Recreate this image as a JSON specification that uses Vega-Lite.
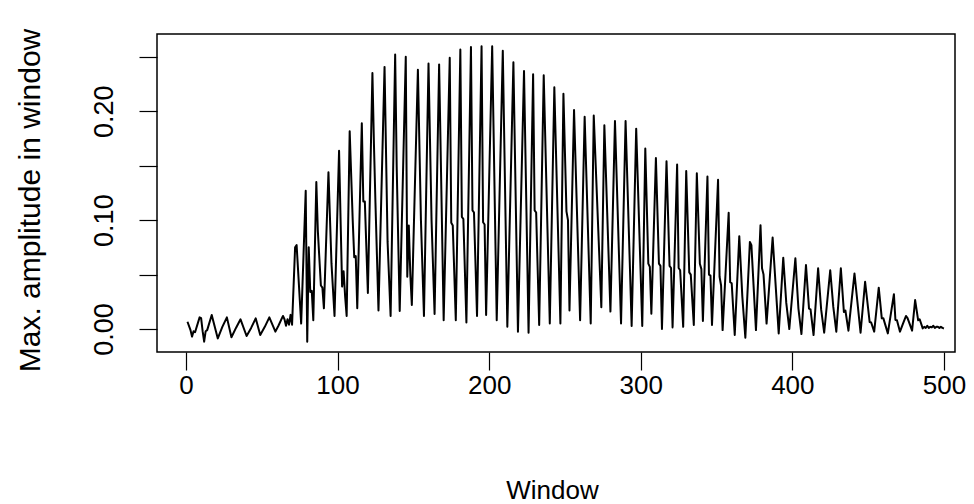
{
  "$schema": "https://vega.github.io/schema/vega-lite/v6.json",
  "width": 798,
  "height": 318,
  "autosize": {"type": "none"},
  "padding": {"left": 157, "top": 34, "right": 19, "bottom": 152},
  "background": "white",
  "config": {
    "font": "Liberation Sans",
    "view": {"stroke": "black", "strokeWidth": 1.5, "fill": null}
  },
  "data": {
    "values": [
      {"window": 1, "amp": 0.0067}, {"window": 3, "amp": -0.001}, {"window": 4, "amp": -0.007},
      {"window": 5, "amp": -0.002}, {"window": 6, "amp": -0.003}, {"window": 9, "amp": 0.0107},
      {"window": 10, "amp": 0.010}, {"window": 11, "amp": -0.002}, {"window": 12, "amp": -0.0116},
      {"window": 13, "amp": -0.002}, {"window": 14, "amp": -0.001}, {"window": 17, "amp": 0.0128},
      {"window": 19, "amp": 0.002}, {"window": 21, "amp": -0.0086}, {"window": 24, "amp": 0.002},
      {"window": 27, "amp": 0.0107}, {"window": 30, "amp": -0.0076}, {"window": 33, "amp": 0.001},
      {"window": 36, "amp": 0.0089}, {"window": 40, "amp": -0.0064}, {"window": 43, "amp": 0.001},
      {"window": 46, "amp": 0.0098}, {"window": 49, "amp": -0.0055}, {"window": 52, "amp": 0.002},
      {"window": 55, "amp": 0.0107}, {"window": 59, "amp": -0.0024}, {"window": 61, "amp": 0.003},
      {"window": 64, "amp": 0.012}, {"window": 65, "amp": 0.009}, {"window": 66, "amp": 0.003},
      {"window": 67, "amp": 0.009}, {"window": 68, "amp": 0.004}, {"window": 69, "amp": 0.013},
      {"window": 70, "amp": 0.004}, {"window": 72, "amp": 0.075}, {"window": 73, "amp": 0.077},
      {"window": 76, "amp": 0.005}, {"window": 79, "amp": 0.127}, {"window": 80, "amp": -0.0116},
      {"window": 81, "amp": 0.075}, {"window": 82, "amp": 0.034}, {"window": 83, "amp": 0.035},
      {"window": 84, "amp": 0.008}, {"window": 86, "amp": 0.135}, {"window": 87, "amp": 0.09},
      {"window": 89, "amp": 0.040}, {"window": 90, "amp": 0.038}, {"window": 91, "amp": 0.019},
      {"window": 94, "amp": 0.144}, {"window": 96, "amp": 0.06}, {"window": 98, "amp": 0.012},
      {"window": 101, "amp": 0.1636}, {"window": 102, "amp": 0.10}, {"window": 103, "amp": 0.039},
      {"window": 104, "amp": 0.053}, {"window": 105, "amp": 0.030}, {"window": 106, "amp": 0.012},
      {"window": 108, "amp": 0.1817}, {"window": 110, "amp": 0.10}, {"window": 111, "amp": 0.066},
      {"window": 112, "amp": 0.067}, {"window": 113, "amp": 0.019}, {"window": 116, "amp": 0.189},
      {"window": 117, "amp": 0.117}, {"window": 118, "amp": 0.117}, {"window": 120, "amp": 0.033},
      {"window": 123, "amp": 0.235}, {"window": 124, "amp": 0.17}, {"window": 125, "amp": 0.116},
      {"window": 127, "amp": 0.017}, {"window": 131, "amp": 0.2407}, {"window": 133, "amp": 0.08},
      {"window": 135, "amp": 0.012}, {"window": 138, "amp": 0.252}, {"window": 139, "amp": 0.15},
      {"window": 141, "amp": 0.0165}, {"window": 145, "amp": 0.250}, {"window": 146, "amp": 0.048},
      {"window": 147, "amp": 0.095}, {"window": 148, "amp": 0.05}, {"window": 149, "amp": 0.022},
      {"window": 153, "amp": 0.238}, {"window": 155, "amp": 0.10}, {"window": 157, "amp": 0.012},
      {"window": 160, "amp": 0.2437}, {"window": 162, "amp": 0.10}, {"window": 164, "amp": 0.0138},
      {"window": 167, "amp": 0.243}, {"window": 170, "amp": 0.008}, {"window": 174, "amp": 0.249},
      {"window": 175, "amp": 0.0975}, {"window": 176, "amp": 0.095}, {"window": 178, "amp": 0.008},
      {"window": 181, "amp": 0.2566}, {"window": 182, "amp": 0.103}, {"window": 183, "amp": 0.101},
      {"window": 185, "amp": 0.006}, {"window": 188, "amp": 0.259}, {"window": 189, "amp": 0.109},
      {"window": 190, "amp": 0.107}, {"window": 192, "amp": 0.012}, {"window": 195, "amp": 0.2596},
      {"window": 196, "amp": 0.098}, {"window": 197, "amp": 0.096}, {"window": 198, "amp": 0.0128},
      {"window": 202, "amp": 0.2596}, {"window": 205, "amp": 0.008}, {"window": 209, "amp": 0.2555},
      {"window": 212, "amp": 0.002}, {"window": 216, "amp": 0.245}, {"window": 219, "amp": -0.0024},
      {"window": 223, "amp": 0.237}, {"window": 226, "amp": -0.0034}, {"window": 229, "amp": 0.234},
      {"window": 230, "amp": 0.109}, {"window": 231, "amp": 0.107}, {"window": 233, "amp": 0.0037},
      {"window": 236, "amp": 0.233}, {"window": 240, "amp": 0.005}, {"window": 243, "amp": 0.222},
      {"window": 247, "amp": 0.005}, {"window": 249, "amp": 0.216}, {"window": 251, "amp": 0.108},
      {"window": 252, "amp": 0.100}, {"window": 253, "amp": 0.017}, {"window": 256, "amp": 0.201},
      {"window": 260, "amp": 0.008}, {"window": 263, "amp": 0.195}, {"window": 267, "amp": 0.005},
      {"window": 269, "amp": 0.196}, {"window": 274, "amp": 0.020}, {"window": 276, "amp": 0.187},
      {"window": 280, "amp": 0.016}, {"window": 283, "amp": 0.191}, {"window": 287, "amp": 0.005},
      {"window": 290, "amp": 0.191}, {"window": 294, "amp": 0.0028}, {"window": 297, "amp": 0.184},
      {"window": 301, "amp": 0.0028}, {"window": 303, "amp": 0.1658}, {"window": 305, "amp": 0.060},
      {"window": 306, "amp": 0.057}, {"window": 307, "amp": 0.014}, {"window": 310, "amp": 0.157},
      {"window": 312, "amp": 0.06}, {"window": 313, "amp": 0.058}, {"window": 314, "amp": 0.0},
      {"window": 317, "amp": 0.154}, {"window": 319, "amp": 0.058}, {"window": 320, "amp": 0.056},
      {"window": 321, "amp": 0.0015}, {"window": 324, "amp": 0.151}, {"window": 325, "amp": 0.056},
      {"window": 326, "amp": 0.054}, {"window": 328, "amp": 0.002}, {"window": 330, "amp": 0.145},
      {"window": 332, "amp": 0.052}, {"window": 333, "amp": 0.050}, {"window": 335, "amp": 0.0037},
      {"window": 337, "amp": 0.143}, {"window": 339, "amp": 0.060}, {"window": 340, "amp": 0.055},
      {"window": 341, "amp": 0.0073}, {"window": 344, "amp": 0.14}, {"window": 345, "amp": 0.05},
      {"window": 346, "amp": 0.049}, {"window": 347, "amp": 0.0037}, {"window": 351, "amp": 0.137},
      {"window": 352, "amp": 0.048}, {"window": 353, "amp": 0.040}, {"window": 354, "amp": -0.001},
      {"window": 358, "amp": 0.1067}, {"window": 359, "amp": 0.043}, {"window": 360, "amp": 0.042},
      {"window": 362, "amp": -0.0055}, {"window": 365, "amp": 0.0853}, {"window": 367, "amp": 0.03},
      {"window": 369, "amp": -0.008}, {"window": 372, "amp": 0.080}, {"window": 373, "amp": 0.077},
      {"window": 376, "amp": -0.001}, {"window": 379, "amp": 0.0954}, {"window": 380, "amp": 0.0557},
      {"window": 381, "amp": 0.05}, {"window": 383, "amp": 0.005}, {"window": 387, "amp": 0.084},
      {"window": 391, "amp": -0.004}, {"window": 394, "amp": 0.0655}, {"window": 396, "amp": 0.024},
      {"window": 398, "amp": 0.0}, {"window": 402, "amp": 0.065}, {"window": 404, "amp": 0.019},
      {"window": 406, "amp": -0.0046}, {"window": 409, "amp": 0.0587}, {"window": 411, "amp": 0.0187},
      {"window": 412, "amp": 0.018}, {"window": 414, "amp": -0.0055}, {"window": 417, "amp": 0.0557},
      {"window": 419, "amp": 0.018}, {"window": 421, "amp": -0.0034}, {"window": 425, "amp": 0.054},
      {"window": 427, "amp": 0.0205}, {"window": 429, "amp": -0.0024}, {"window": 432, "amp": 0.0557},
      {"window": 434, "amp": 0.0156}, {"window": 435, "amp": 0.017}, {"window": 437, "amp": -0.0015},
      {"window": 441, "amp": 0.051}, {"window": 445, "amp": -0.0034}, {"window": 448, "amp": 0.0434},
      {"window": 451, "amp": 0.0064}, {"window": 452, "amp": 0.006}, {"window": 454, "amp": -0.0024},
      {"window": 457, "amp": 0.038}, {"window": 459, "amp": 0.0098}, {"window": 460, "amp": 0.010},
      {"window": 463, "amp": -0.004}, {"window": 467, "amp": 0.032}, {"window": 468, "amp": 0.0083},
      {"window": 469, "amp": 0.008}, {"window": 471, "amp": -0.0024}, {"window": 473, "amp": 0.005},
      {"window": 475, "amp": 0.012}, {"window": 476, "amp": 0.010}, {"window": 479, "amp": -0.0015},
      {"window": 481, "amp": 0.0266}, {"window": 483, "amp": 0.008}, {"window": 484, "amp": 0.009},
      {"window": 486, "amp": 0.0006}, {"window": 487, "amp": 0.002}, {"window": 488, "amp": 0.001},
      {"window": 489, "amp": 0.003}, {"window": 490, "amp": 0.001}, {"window": 491, "amp": 0.002},
      {"window": 492, "amp": 0.0015}, {"window": 493, "amp": 0.003}, {"window": 494, "amp": 0.001},
      {"window": 495, "amp": 0.002}, {"window": 496, "amp": 0.002}, {"window": 497, "amp": 0.001},
      {"window": 498, "amp": 0.002}, {"window": 499, "amp": 0.001}, {"window": 500, "amp": 0.0005}
    ]
  },
  "mark": {"type": "line", "color": "black", "strokeWidth": 2, "strokeJoin": "round"},
  "encoding": {
    "x": {
      "field": "window",
      "type": "quantitative",
      "scale": {"domain": [-19.1, 507.3], "nice": false, "zero": false},
      "axis": {
        "title": "Window",
        "values": [0, 100, 200, 300, 400, 500],
        "format": "d",
        "domain": false,
        "grid": false,
        "tickColor": "black",
        "tickWidth": 1.2,
        "tickSize": 18,
        "labelFontSize": 26,
        "labelColor": "black",
        "labelPadding": 2,
        "labelBaseline": "top",
        "labelFlush": false,
        "labelOverlap": false,
        "titleFontSize": 26,
        "titleFontWeight": "normal",
        "titleColor": "black",
        "titleX": 395,
        "titleY": 138,
        "titleBaseline": "middle",
        "titleAlign": "center"
      }
    },
    "y": {
      "field": "amp",
      "type": "quantitative",
      "scale": {"domain": [-0.0211, 0.2709], "nice": false, "zero": false},
      "axis": {
        "title": "Max. amplitude in window",
        "values": [0, 0.05, 0.1, 0.15, 0.2, 0.25],
        "format": ".2f",
        "labelExpr": "round(datum.value * 100) % 10 == 0 ? datum.label : ''",
        "domain": false,
        "grid": false,
        "tickColor": "black",
        "tickWidth": 1.2,
        "tickSize": 18,
        "labelFontSize": 27,
        "labelColor": "black",
        "labelAngle": -90,
        "labelAlign": "center",
        "labelBaseline": "bottom",
        "labelPadding": 21,
        "labelFlush": false,
        "labelOverlap": false,
        "titleFontSize": 30,
        "titleFontWeight": "normal",
        "titleColor": "black",
        "titleAngle": -90,
        "titleX": -127,
        "titleY": 166,
        "titleBaseline": "middle",
        "titleAlign": "center"
      }
    }
  }
}
